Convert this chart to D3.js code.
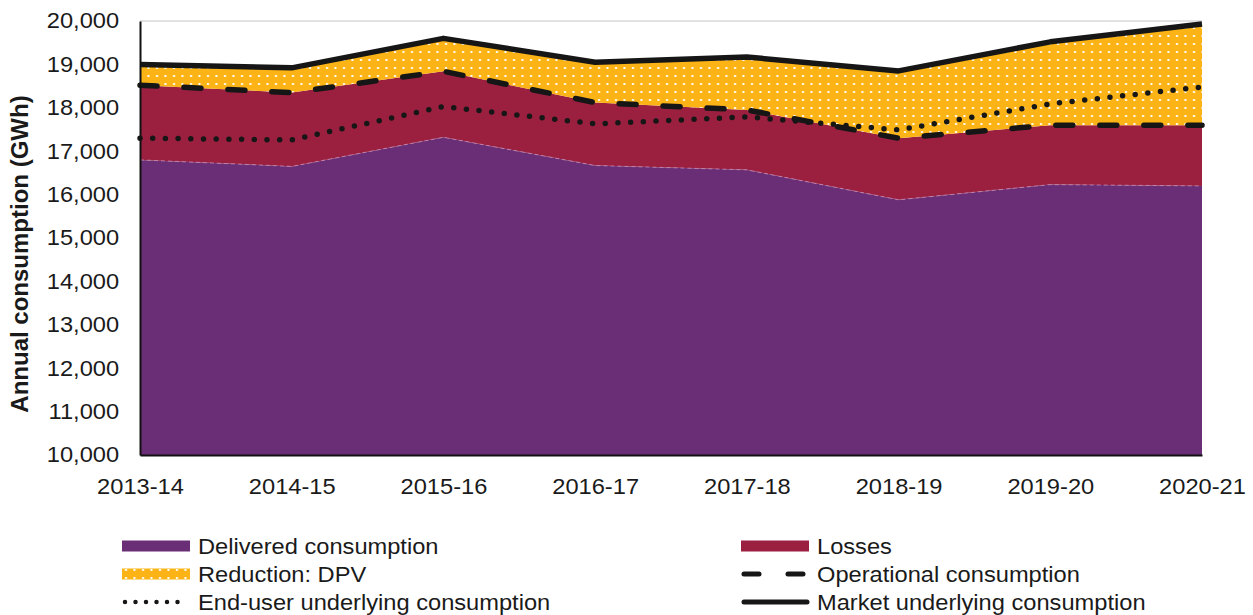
<!DOCTYPE html>
<html lang="en">
<head>
    <meta charset="UTF-8">
    <title>Annual consumption</title>
    <script src="https://d3js.org/d3.v7.min.js"></script>
    <style>
        body {
            margin: 0;
            background: #ffffff;
            font-family: "Liberation Sans", Arial, sans-serif;
        }
        text {
            fill: #1a1a1a;
        }
    </style>
</head>
<body>
    <div id="chart"></div>

    <script>
        // Data (GWh)
        const years = ["2013-14", "2014-15", "2015-16", "2016-17", "2017-18", "2018-19", "2019-20", "2020-21"];
        const delivered = [16800, 16650, 17320, 16670, 16570, 15880, 16230, 16200];
        const losses = [1720, 1700, 1520, 1450, 1380, 1420, 1370, 1400];
        const dpv = [480, 570, 760, 930, 1220, 1550, 1920, 2330];
        const endUser = [17300, 17260, 18030, 17630, 17790, 17490, 18090, 18480];
        const yTicks = [10000, 11000, 12000, 13000, 14000, 15000, 16000, 17000, 18000, 19000, 20000];

        const width = 1253;
        const height = 615;
        const margin = { top: 21, right: 51, bottom: 160, left: 140 };

        // text in the reference is a bit wider than plain Arial
        const stretch = "scale(1.1,1)";
        const fontSize = 21.5;

        const colors = {
            delivered: "#6a2e77",
            losses: "#9b2040",
            dpv: "#fcb315",
            line: "#161616"
        };

        const svg = d3.select("#chart")
            .append("svg")
            .attr("width", width)
            .attr("height", height);

        // dotted fill for the DPV area
        const defs = svg.append("defs");
        const pat = defs.append("pattern")
            .attr("id", "dpvDots")
            .attr("patternUnits", "userSpaceOnUse")
            .attr("width", 8.5)
            .attr("height", 8);
        pat.append("rect").attr("width", 8.5).attr("height", 8).attr("fill", colors.dpv);
        pat.append("rect").attr("x", 3).attr("y", 3).attr("width", 2).attr("height", 2).attr("fill", "#ffffff");

        const x = d3.scalePoint()
            .domain(years)
            .range([margin.left, width - margin.right]);

        const y = d3.scaleLinear()
            .domain([10000, 20000])
            .range([height - margin.bottom, margin.top]);

        // stack the three areas
        const rows = years.map((yr, i) => ({
            year: yr,
            delivered: delivered[i],
            losses: losses[i],
            dpv: dpv[i]
        }));
        const stacked = d3.stack().keys(["delivered", "losses", "dpv"])(rows);

        const area = d3.area()
            .x(d => x(d.data.year))
            .y0(d => y(Math.max(d[0], 10000)))
            .y1(d => y(d[1]));

        // top gridline only
        svg.append("line")
            .attr("x1", margin.left)
            .attr("x2", width - margin.right)
            .attr("y1", y(20000))
            .attr("y2", y(20000))
            .attr("stroke", "#d9d9d9")
            .attr("stroke-width", 1.5);

        const fills = { delivered: colors.delivered, losses: colors.losses, dpv: "url(#dpvDots)" };

        svg.selectAll(".layer")
            .data(stacked)
            .join("path")
            .attr("class", "layer")
            .attr("d", area)
            .attr("fill", d => fills[d.key]);

        // faint edge on top of delivered area
        svg.append("path")
            .datum(stacked[0])
            .attr("d", d3.line().x(d => x(d.data.year)).y(d => y(d[1])))
            .attr("fill", "none")
            .attr("stroke", "#c48cb8")
            .attr("stroke-width", 0.8)
            .attr("stroke-dasharray", "4 3");

        const line = d3.line()
            .x((d, i) => x(years[i]))
            .y(d => y(d));

        const operational = stacked[1].map(d => d[1]);
        const market = stacked[2].map(d => d[1]);

        // end-user underlying (dotted)
        svg.append("path")
            .datum(endUser)
            .attr("d", line)
            .attr("fill", "none")
            .attr("stroke", colors.line)
            .attr("stroke-width", 5.5)
            .attr("stroke-linecap", "round")
            .attr("stroke-dasharray", "0 12.7");

        // operational (dashed)
        svg.append("path")
            .datum(operational)
            .attr("d", line)
            .attr("fill", "none")
            .attr("stroke", colors.line)
            .attr("stroke-width", 5.5)
            .attr("stroke-linecap", "round")
            .attr("stroke-dasharray", "17 27");

        // market underlying (solid)
        svg.append("path")
            .datum(market)
            .attr("d", line)
            .attr("fill", "none")
            .attr("stroke", colors.line)
            .attr("stroke-width", 5.5)
            .attr("stroke-linejoin", "round");

        // axes
        const yAxis = svg.append("g")
            .attr("transform", `translate(${margin.left},0)`)
            .call(d3.axisLeft(y).tickValues(yTicks).tickSize(0).tickPadding(19).tickFormat(d3.format(",")));
        yAxis.select(".domain").attr("stroke", "#111").attr("stroke-width", 2);
        yAxis.selectAll("text")
            .attr("font-size", fontSize)
            .attr("font-family", "Liberation Sans, Arial, sans-serif")
            .attr("fill", "#1a1a1a")
            .attr("transform", stretch);

        const xAxis = svg.append("g")
            .attr("transform", `translate(0,${height - margin.bottom})`)
            .call(d3.axisBottom(x).tickSize(0).tickPadding(24));
        xAxis.select(".domain").attr("stroke", "#111").attr("stroke-width", 2);
        xAxis.selectAll("text")
            .attr("font-size", fontSize)
            .attr("font-family", "Liberation Sans, Arial, sans-serif")
            .attr("fill", "#1a1a1a")
            .attr("transform", stretch);

        // y title
        svg.append("text")
            .attr("transform", `translate(28,254) rotate(-90)`)
            .attr("text-anchor", "middle")
            .attr("font-size", 24)
            .attr("font-weight", "bold")
            .text("Annual consumption (GWh)");

        // legend
        const legendItems = [
            { label: "Delivered consumption", type: "rect", fill: colors.delivered, col: 0, row: 0 },
            { label: "Losses", type: "rect", fill: colors.losses, col: 1, row: 0 },
            { label: "Reduction: DPV", type: "rect", fill: "url(#dpvDots)", col: 0, row: 1 },
            { label: "Operational consumption", type: "dash", col: 1, row: 1 },
            { label: "End-user underlying consumption", type: "dot", col: 0, row: 2 },
            { label: "Market underlying consumption", type: "solid", col: 1, row: 2 }
        ];
        const colX = [122, 741];
        const rowY = [546, 574, 602];

        const lg = svg.append("g").selectAll("g")
            .data(legendItems)
            .join("g")
            .attr("transform", d => `translate(${colX[d.col]},${rowY[d.row]})`);

        lg.each(function (d) {
            const g = d3.select(this);
            if (d.type === "rect") {
                g.append("rect").attr("x", 0).attr("y", -5.5).attr("width", 68).attr("height", 11).attr("fill", d.fill);
            } else {
                const ln = g.append("line")
                    .attr("x1", 3)
                    .attr("x2", 66)
                    .attr("y1", 0).attr("y2", 0)
                    .attr("stroke", colors.line)
                    .attr("stroke-linecap", "round")
                    .attr("stroke-width", d.type === "dot" ? 4.5 : 5);
                if (d.type === "dot") ln.attr("stroke-dasharray", "0 10.5");
                if (d.type === "dash") ln.attr("stroke-dasharray", "15 29");
            }
            g.append("text")
                .attr("transform", `translate(76,0) ${stretch}`)
                .attr("dy", "0.35em")
                .attr("font-size", fontSize)
                .text(d.label);
        });
    </script>
</body>
</html>
